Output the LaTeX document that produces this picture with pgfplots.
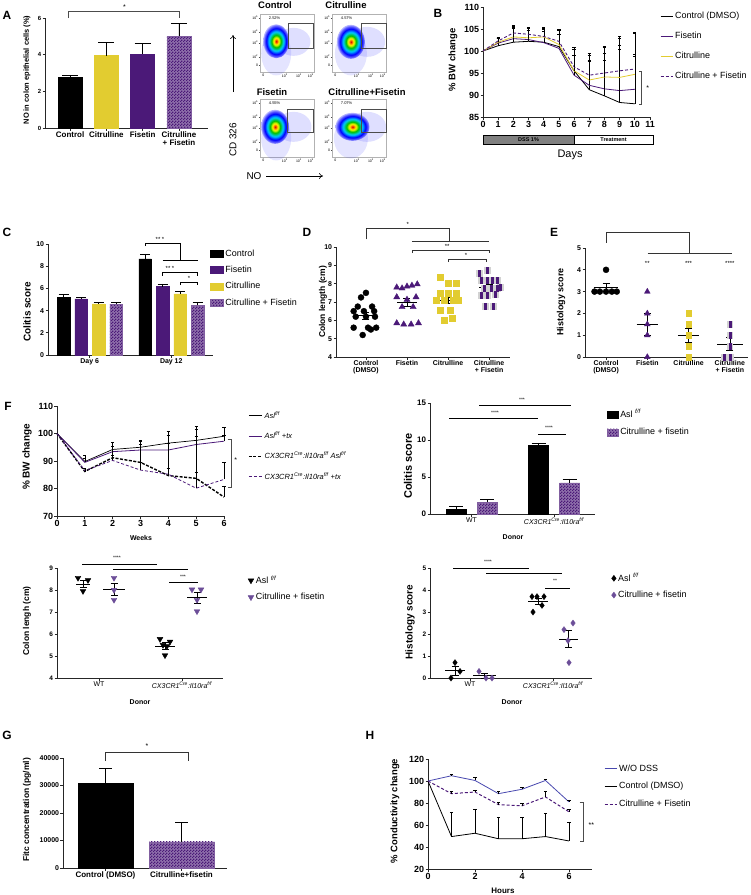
\documentclass[border=0pt]{standalone}
\usepackage{pgfplots}
\pgfplotsset{compat=1.18}
\usepackage{fontspec}
\setmainfont{Liberation Sans}
\usetikzlibrary{patterns,arrows.meta}
\newcommand{\fs}[1]{\fontsize{#1}{#1}\selectfont}
\definecolor{pur}{RGB}{75,25,120}
\definecolor{yel}{RGB}{226,204,48}
\definecolor{purl}{RGB}{108,78,152}
\definecolor{blu}{RGB}{72,72,175}
\definecolor{dss}{RGB}{128,128,128}
\pgfdeclarepatternformonly{finecheck}{\pgfpointorigin}{\pgfqpoint{2.6pt}{2.6pt}}{\pgfqpoint{2.6pt}{2.6pt}}{%
  \pgfpathrectangle{\pgfpointorigin}{\pgfqpoint{1.35pt}{1.35pt}}%
  \pgfpathrectangle{\pgfqpoint{1.3pt}{1.3pt}}{\pgfqpoint{1.35pt}{1.35pt}}%
  \pgfusepath{fill}}
\pgfdeclareradialshading{flowblob}{\pgfpointorigin}{color(0bp)=(red!85!black); color(2.5bp)=(orange); color(5bp)=(yellow); color(9bp)=(green!75!black); color(14bp)=(cyan!80!blue); color(19bp)=(blue); color(23bp)=(blue!60); color(25bp)=(blue!30); color(50bp)=(blue!30)}
\pgfplotsset{
  /pgf/number format/assume math mode=true,
  prism/.style={scale only axis, clip=false, axis lines*=left,
    axis line style={line width=0.7pt, black!85},
    tick style={line width=0.7pt, black!85},
    tick align=outside, major tick length=2.5bp,
    ticklabel style={font=\fs{7}\bfseries, inner sep=1.2bp},
    legend cell align=left,
    legend style={draw=none, fill=none, inner sep=0pt, font=\fs{9}, anchor=north west}},
  pbar/.style n args={3}{ybar, bar shift=0pt, bar width=#1, #2, line width=0.5pt,
    error bars/.cd, y dir=plus, y explicit,
    error bar style={black, line width=0.7pt, solid},
    error mark options={black, rotate=90, mark size=#3, line width=0.7pt}},
  chk/.style={fill=pur!62, draw=pur!70, postaction={pattern=finecheck, pattern color=pur}},
  ebars/.style={error bars/.cd, y dir=plus, y explicit,
    error bar style={black, line width=0.45pt, solid},
    error mark options={black, rotate=90, mark size=1.6bp, line width=0.45pt, solid}},
  msem/.style={draw=none, mark=none, forget plot, error bars/.cd, y dir=both, y explicit,
    error bar style={draw=black, line width=0.7pt, solid},
    error mark options={black, rotate=90, mark size=#1, line width=0.7pt}},
  mline/.style={black, line width=0.7pt, mark=none, forget plot},
  flow/.style={scale only axis, clip=false, width=54bp, height=58bp,
    xmin=0, xmax=1, ymin=0, ymax=1,
    axis line style={gray!60, line width=0.4pt},
    xtick={0.06,0.46,0.72,0.94}, xticklabels={0,10\textsuperscript{3},10\textsuperscript{4},10\textsuperscript{5}},
    ytick={0.12,0.26,0.5,0.69,0.93}, yticklabels={0,10\textsuperscript{2},10\textsuperscript{3},10\textsuperscript{4},10\textsuperscript{5}},
    ticklabel style={font=\fs{3.5}, inner sep=0.5bp},
    tick align=outside, major tick length=1.2bp, tick style={black!70, line width=0.3pt},
    xtick pos=bottom, ytick pos=left},
}
\begin{document}
\begin{tikzpicture}
\path[use as bounding box] (0,0) rectangle (751bp,-895bp);
% ---------- panel letters and free labels
\foreach \t/\x/\y in {A/7/15, B/438/13, C/7/232, D/307/232, E/554/232, F/8/406, G/7/735, H/370/735}
  \node[font=\fs{12}\bfseries] at (\x bp,-\y bp) {\t};
\node[rotate=90, font=\fs{7.5}\bfseries] at (27bp,-70bp) {NO in colon epithelial cells (\%)};
\node[rotate=90, font=\fs{9.5}\bfseries] at (453bp,-60bp) {\% BW change};
\node[rotate=90, font=\fs{10}\bfseries] at (27bp,-312bp) {Colitis score};
\node[rotate=90, font=\fs{8.5}\bfseries] at (323bp,-302bp) {Colon length (cm)};
\node[rotate=90, font=\fs{9}\bfseries] at (561bp,-302bp) {Histology score};
\node[rotate=90, font=\fs{10}\bfseries] at (27bp,-457bp) {\% BW change};
\node[rotate=90, font=\fs{11}\bfseries] at (408bp,-466bp) {Colitis score};
\node[rotate=90, font=\fs{8.5}\bfseries] at (27bp,-621bp) {Colon lengh (cm)};
\node[rotate=90, font=\fs{10}\bfseries] at (410bp,-622bp) {Histology score};
\node[rotate=90, font=\fs{8.5}\bfseries] at (27bp,-810bp) {Fitc concentration (pg/ml)};
\node[rotate=90, font=\fs{9.5}\bfseries] at (395bp,-811bp) {\% Conductivity change};
\node[font=\fs{11}] at (570bp,-155bp) {Days};
\node[font=\fs{7}\bfseries] at (141bp,-538bp) {Weeks};
\node[font=\fs{7}\bfseries] at (513bp,-537bp) {Donor};
\node[font=\fs{7}\bfseries] at (140bp,-702bp) {Donor};
\node[font=\fs{7}\bfseries] at (512bp,-702bp) {Donor};
\node[font=\fs{8}\bfseries] at (503bp,-891bp) {Hours};
% flow labels
\node[font=\fs{9.5}\bfseries] at (275bp,-5bp) {Control};
\node[font=\fs{9.5}\bfseries] at (346bp,-5bp) {Citrulline};
\node[font=\fs{9.5}\bfseries] at (272bp,-92bp) {Fisetin};
\node[font=\fs{9.5}\bfseries] at (367bp,-92bp) {Citrulline+Fisetin};
\node[rotate=90, font=\fs{10}] at (233bp,-140bp) {CD 326};
\draw[-{To[length=4bp,width=6bp]}, line width=0.6pt] (233bp,-92bp) -- (233bp,-35bp);
\node[font=\fs{10}] at (254bp,-176bp) {NO};
\draw[-{To[length=4bp,width=6bp]}, line width=0.6pt] (266bp,-176bp) -- (323bp,-176bp);

% ---------- A
\begin{axis}[prism, at={(45bp,-128bp)}, anchor=south west, width=163bp, height=110bp,
  xmin=-0.69, xmax=3.8, ymin=0, ymax=6, ytick={0,2,4,6},
  xtick={0,1,2,3}, xticklabels={Control,Citrulline,Fisetin,{Citrulline\\+ Fisetin}},
  xticklabel style={font=\fs{8}\bfseries, align=center},
  yticklabel style={font=\fs{6}\bfseries}]
\addplot[pbar={0.66}{fill=black, draw=black}{8bp}] coordinates {(0,2.75) +- (0,0.12)};
\addplot[pbar={0.66}{fill=yel, draw=yel}{8bp}] coordinates {(1,3.95) +- (0,0.7)};
\addplot[pbar={0.66}{fill=pur, draw=pur}{8bp}] coordinates {(2,4.05) +- (0,0.55)};
\addplot[pbar={0.66}{chk}{8bp}] coordinates {(3,5.0) +- (0,0.7)};
\draw[black!70, line width=0.6pt] (axis cs:-0.05,6.0) -- (axis cs:-0.05,6.38) -- (axis cs:3,6.38) -- (axis cs:3,6.0);
\node[font=\fs{7}] at (axis cs:1.5,6.62) {*};
\end{axis}

% ---------- flow plots
\begin{axis}[flow, at={(260bp,-72bp)}, anchor=south west]
\fill[blue!70, opacity=0.18] (axis cs:0.62,0.52) ellipse [x radius=17bp, y radius=14bp];
\fill[blue!70, opacity=0.15] (axis cs:0.3,0.32) ellipse [x radius=15bp, y radius=22bp];
\shade[shading=flowblob] (axis cs:0.3,0.53) ellipse [x radius=13bp, y radius=17bp];
\draw[gray!60!black, line width=0.5pt] (axis cs:0.52,0.41) rectangle (axis cs:0.98,0.845);
\node[font=\fs{4}] at (axis cs:0.27,0.93) {2.52\%};
\end{axis}
\begin{axis}[flow, at={(332bp,-72bp)}, anchor=south west]
\fill[blue!70, opacity=0.18] (axis cs:0.65,0.52) ellipse [x radius=18bp, y radius=15bp];
\fill[blue!70, opacity=0.15] (axis cs:0.35,0.32) ellipse [x radius=16bp, y radius=22bp];
\shade[shading=flowblob] (axis cs:0.35,0.52) ellipse [x radius=14bp, y radius=17bp];
\draw[gray!60!black, line width=0.5pt] (axis cs:0.55,0.41) rectangle (axis cs:1.0,0.845);
\node[font=\fs{4}] at (axis cs:0.27,0.93) {4.57\%};
\end{axis}
\begin{axis}[flow, at={(260bp,-157bp)}, anchor=south west]
\fill[blue!70, opacity=0.18] (axis cs:0.62,0.52) ellipse [x radius=18bp, y radius=15bp];
\fill[blue!70, opacity=0.15] (axis cs:0.3,0.32) ellipse [x radius=15bp, y radius=22bp];
\shade[shading=flowblob] (axis cs:0.28,0.52) ellipse [x radius=14bp, y radius=17bp];
\draw[gray!60!black, line width=0.5pt] (axis cs:0.5,0.42) rectangle (axis cs:0.99,0.83);
\node[font=\fs{4}] at (axis cs:0.27,0.93) {4.55\%};
\end{axis}
\begin{axis}[flow, at={(332bp,-157bp)}, anchor=south west]
\fill[blue!70, opacity=0.18] (axis cs:0.65,0.52) ellipse [x radius=19bp, y radius=15bp];
\fill[blue!70, opacity=0.15] (axis cs:0.35,0.32) ellipse [x radius=17bp, y radius=20bp];
\shade[shading=flowblob] (axis cs:0.38,0.52) ellipse [x radius=17bp, y radius=14bp];
\draw[gray!60!black, line width=0.5pt] (axis cs:0.55,0.42) rectangle (axis cs:1.0,0.83);
\node[font=\fs{4}] at (axis cs:0.27,0.93) {7.07\%};
\end{axis}

% ---------- B
\begin{axis}[prism, at={(483bp,-117bp)}, anchor=south west, width=167bp, height=110bp,
  xmin=0, xmax=11, ymin=85, ymax=110, xtick={0,...,11}, ytick={85,90,...,110},
  ticklabel style={font=\fs{9}\bfseries},
  legend style={at={(1.06,0.97)}, row sep=8bp},
  legend image code/.code={\draw[#1] (0bp,0bp) -- (12bp,0bp);}]
\addplot[black, line width=0.8pt, mark=none, ebars] coordinates {(0,100) (1,101.2) +- (0,2.0) (2,102) +- (0,3.8) (3,102.2) +- (0,3.0) (4,102) +- (0,3.3) (5,101) +- (0,4) (6,95.5) +- (0,5.3) (7,91.2) +- (0,8.3) (8,89.8) +- (0,11.2) (9,88.3) +- (0,15) (10,88) +- (0,16.2)};
\addlegendentry{Control (DMSO)}
\addplot[pur, line width=0.8pt, mark=none, ebars] coordinates {(0,100) (1,101.8) +- (0,1.2) (2,102.8) +- (0,2.5) (3,102.6) +- (0,2.2) (4,101.9) +- (0,2.6) (5,100.6) +- (0,3.3) (6,94.5) +- (0,4.5) (7,92.2) +- (0,5.5) (8,91.4) +- (0,6.4) (9,91) +- (0,9.5) (10,91.3) +- (0,8)};
\addlegendentry{Fisetin}
\addplot[yel, line width=0.8pt, mark=none, ebars] coordinates {(0,100) (1,102) +- (0,0.8) (2,103.2) +- (0,2) (3,103) +- (0,1.8) (4,103.2) +- (0,1.8) (5,101.5) +- (0,3.2) (6,95.5) +- (0,3.5) (7,93.4) +- (0,4.5) (8,94.1) +- (0,5.5) (9,94) +- (0,7.3) (10,94.7) +- (0,4)};
\addlegendentry{Citrulline}
\addplot[pur, dash pattern=on 3bp off 2bp, line width=0.9pt, mark=none, ebars] coordinates {(0,100) (1,102.3) +- (0,0.6) (2,104.1) +- (0,1.6) (3,103.8) +- (0,1.5) (4,103.3) +- (0,1.8) (5,102.2) +- (0,2.5) (6,96.4) +- (0,4) (7,94.5) +- (0,4.5) (8,95) +- (0,5.8) (9,95.5) +- (0,7.5) (10,95.9) +- (0,8.2)};
\addlegendentry{Citrulline + Fisetin}
\draw[black!70, line width=0.5pt] (axis cs:10.3,95.5) -- (axis cs:10.45,95.5) -- (axis cs:10.45,88) -- (axis cs:10.3,88);
\node[font=\fs{7}] at (axis cs:10.85,91.5) {*};
\draw[line width=0.5pt, fill=dss] (axis cs:0,80.9) rectangle (axis cs:6,78.9);
\draw[line width=0.5pt] (axis cs:6,80.9) rectangle (axis cs:11.2,78.9);
\node[font=\fs{5.5}\bfseries] at (axis cs:3,79.9) {DSS 1\%};
\node[font=\fs{5.5}\bfseries] at (axis cs:8.6,79.9) {Treatment};
\end{axis}

% ---------- C
\begin{axis}[prism, at={(48bp,-355bp)}, anchor=south west, width=165bp, height=111bp,
  xmin=0, xmax=165, ymin=0, ymax=10, ytick={0,2,...,10},
  xtick={41.75,123.25}, xticklabels={Day 6,Day 12},
  legend style={at={(0.98,0.97)}, row sep=4.5bp},
  legend image code/.code={\draw[#1] (0bp,-3.5bp) rectangle (13bp,3.5bp);}]
\addplot[pbar={12.5}{fill=black, draw=black}{5bp}] coordinates {(15.5,5.2) +- (0,0.25) (97,8.65) +- (0,0.45)};
\addlegendentry{Control}
\addplot[pbar={12.5}{fill=pur, draw=pur}{5bp}] coordinates {(33,5.05) +- (0,0.15) (114.5,6.15) +- (0,0.25)};
\addlegendentry{Fisetin}
\addplot[pbar={12.5}{fill=yel, draw=yel}{5bp}] coordinates {(50.5,4.6) +- (0,0.1) (132,5.5) +- (0,0.25)};
\addlegendentry{Citrulline}
\addplot[pbar={12.5}{chk}{5bp}] coordinates {(68,4.55) +- (0,0.15) (149.5,4.5) +- (0,0.2)};
\addlegendentry{Citrulline + Fisetin}
\draw[line width=0.6pt] (axis cs:97,9.8) -- (axis cs:97,10.1) -- (axis cs:132,10.1) -- (axis cs:132,8.56);
\draw[line width=0.6pt] (axis cs:114.5,8.56) -- (axis cs:149.5,8.56);
\node[font=\fs{6}] at (axis cs:112,10.45) {** *};
\draw[line width=0.6pt] (axis cs:114.5,7.15) -- (axis cs:114.5,7.48) -- (axis cs:149.5,7.48) -- (axis cs:149.5,7.15);
\node[font=\fs{6}] at (axis cs:122,7.8) {** *};
\draw[line width=0.6pt] (axis cs:132,6.3) -- (axis cs:132,6.58) -- (axis cs:149.5,6.58) -- (axis cs:149.5,6.3);
\node[font=\fs{6}] at (axis cs:141,6.88) {*};
\end{axis}

% ---------- D
\begin{axis}[prism, at={(336bp,-357bp)}, anchor=south west, width=174bp, height=110bp,
  xmin=-0.73, xmax=3.51, ymin=4, ymax=10, ytick={4,5,...,10},
  xtick={0,1,2,3}, xticklabels={{Control\\(DMSO)},Fisetin,Citrulline,{Citrulline\\+ Fisetin}},
  xticklabel style={align=center}]
\addplot[only marks, mark=*, mark size=3bp, black] coordinates {(0,7.5) (-0.12,7.25) (-0.2,6.75) (0.15,6.75) (-0.3,6.5) (-0.05,6.5) (0.2,6.5) (-0.25,6.2) (0,6.2) (0.22,6.2) (-0.3,5.6) (0.05,5.6) (0.25,5.6) (-0.08,5.2) (0.12,5.5)};
\addplot[only marks, mark=triangle*, mark size=3.5bp, pur] coordinates {(0.75,7.8) (0.88,7.75) (1,7.85) (1.12,7.9) (1.25,7.97) (0.75,7.27) (1.22,7.27) (1,7.13) (0.88,6.73) (1.15,6.73) (0.75,5.85) (0.92,5.78) (1.1,5.78) (1.28,5.85)};
\addplot[only marks, mark=square*, mark size=3bp, yel] coordinates {(1.8,8.36) (2,8.0) (2.2,8.0) (1.8,7.5) (2,7.5) (2.2,7.5) (1.72,7.1) (1.9,7.1) (2.12,7.1) (2.25,7.1) (1.8,6.55) (2.05,6.55) (1.9,6.0) (2.1,6.09)};
\addplot[only marks, mark=square*, mark size=3bp, gray!35] coordinates {(2.75,8.58) (2.95,8.76) (2.8,8.18) (2.95,8.18) (3.08,8.18) (3.2,8.18) (2.88,7.78) (3.05,7.78) (3.2,7.78) (2.8,7.36) (2.95,7.36) (3.15,7.45) (2.9,6.76) (3.1,6.76) (3.28,7.82)};
\addplot[only marks, mark=square*, mark size=3bp, pur, mark options={xscale=0.35}] coordinates {(2.75,8.58) (2.95,8.76) (2.8,8.18) (2.95,8.18) (3.08,8.18) (3.2,8.18) (2.88,7.78) (3.05,7.78) (3.2,7.78) (2.8,7.36) (2.95,7.36) (3.15,7.45) (2.9,6.76) (3.1,6.76) (3.28,7.82)};
\addplot[mline] coordinates {(-0.22,6.25) (0.22,6.25)};
\addplot[msem=3.5bp] coordinates {(0,6.25) +- (0,0.17)};
\addplot[mline] coordinates {(0.76,6.97) (1.24,6.97)};
\addplot[msem=3.5bp] coordinates {(1,6.97) +- (0,0.22)};
\addplot[mline] coordinates {(1.76,7.1) (2.24,7.1)};
\addplot[msem=3.5bp] coordinates {(2,7.1) +- (0,0.17)};
\addplot[mline] coordinates {(2.76,7.8) (3.24,7.8)};
\addplot[msem=3.5bp] coordinates {(3,7.8) +- (0,0.15)};
\draw[black!80, line width=0.6pt] (axis cs:0,10.42) -- (axis cs:0,11.02) -- (axis cs:2.02,11.02) -- (axis cs:2.02,10.33);
\draw[black!80, line width=0.6pt] (axis cs:1.12,10.33) -- (axis cs:3,10.33);
\node[font=\fs{6}] at (axis cs:1.02,11.25) {*};
\draw[black!80, line width=0.6pt] (axis cs:1.12,9.67) -- (axis cs:1.12,9.84) -- (axis cs:3,9.84) -- (axis cs:3,9.67);
\node[font=\fs{6}] at (axis cs:1.98,10.02) {**};
\draw[black!80, line width=0.6pt] (axis cs:2,9.18) -- (axis cs:2,9.34) -- (axis cs:2.94,9.34) -- (axis cs:2.94,9.18);
\node[font=\fs{6}] at (axis cs:2.44,9.52) {*};
\end{axis}

% ---------- E
\begin{axis}[prism, at={(585bp,-357bp)}, anchor=south west, width=163bp, height=109bp,
  xmin=-0.51, xmax=3.44, ymin=0, ymax=5, ytick={0,...,5},
  xtick={0,1,2,3}, xticklabels={{Control\\(DMSO)},Fisetin,Citrulline,{Citrulline\\+ Fisetin}},
  xticklabel style={align=center}]
\addplot[only marks, mark=*, mark size=3bp, black] coordinates {(-0.28,3) (-0.15,3) (0,3) (0.14,3) (0.26,3) (0,4)};
\addplot[only marks, mark=triangle*, mark size=3.3bp, pur] coordinates {(1,3) (1,2) (1,1.5) (1,1) (1,0)};
\addplot[only marks, mark=square*, mark size=2.8bp, yel] coordinates {(2,2) (2,1.5) (2,1) (2,0.5) (2,0)};
\addplot[only marks, mark=square*, mark size=2.8bp, gray!35] coordinates {(3,1.5) (3,1) (3,0.5) (2.86,0) (3.02,0)};
\addplot[only marks, mark=square*, mark size=2.8bp, pur, mark options={xscale=0.35}] coordinates {(3,1.5) (3,1) (3,0.5) (2.86,0) (3.02,0)};
\addplot[mline] coordinates {(-0.3,3.2) (0.3,3.2)};
\addplot[msem=3.5bp] coordinates {(0,3.2) +- (0,0.2)};
\addplot[mline] coordinates {(0.74,1.5) (1.26,1.5)};
\addplot[msem=3.5bp] coordinates {(1,1.5) +- (0,0.5)};
\addplot[mline] coordinates {(1.74,1.0) (2.26,1.0)};
\addplot[msem=3.5bp] coordinates {(2,1.0) +- (0,0.33)};
\addplot[mline] coordinates {(2.7,0.6) (3.32,0.6)};
\addplot[msem=3.5bp] coordinates {(3,0.6) +- (0,0.3)};
\draw[black!80, line width=0.8pt] (axis cs:0,5.23) -- (axis cs:0,5.73) -- (axis cs:2.03,5.73) -- (axis cs:2.03,4.77);
\draw[black!80, line width=0.8pt] (axis cs:1.01,4.77) -- (axis cs:3.06,4.77);
\node[font=\fs{6}] at (axis cs:1,4.31) {**};
\node[font=\fs{6}] at (axis cs:2,4.31) {***};
\node[font=\fs{6}] at (axis cs:3,4.31) {****};
\end{axis}

% ---------- F top-left
\begin{axis}[prism, at={(57bp,-516bp)}, anchor=south west, width=167bp, height=110bp,
  xmin=0, xmax=6, ymin=70, ymax=110, xtick={0,...,6}, ytick={70,80,...,110},
  ticklabel style={font=\fs{9}\bfseries},
  legend style={at={(1.144,0.97)}, row sep=8bp, font=\fs{7.5}},
  legend image code/.code={\draw[#1] (0bp,0bp) -- (13bp,0bp);}]
\addplot[black, line width=0.7pt, mark=none, ebars] coordinates {(0,100) (1,89.8) +- (0,2.3) (2,94.2) +- (0,2.5) (3,95) +- (0,2.3) (4,96.5) +- (0,3) (5,97.5) +- (0,4) (6,99) +- (0,3.3)};
\addlegendentry{\textit{Asl\textsuperscript{f/f}}}
\addplot[pur, line width=0.8pt, mark=none, ebars] coordinates {(0,100) (1,89.5) +- (0,1.5) (2,93.4) +- (0,2) (3,94) +- (0,2) (4,94) +- (0,2.5) (5,96) +- (0,3) (6,97.2) +- (0,2)};
\addlegendentry{\textit{Asl\textsuperscript{f/f} +tx}}
\addplot[black, dash pattern=on 3bp off 1.5bp, line width=1.4pt, mark=none, ebars] coordinates {(0,100) (1,86.2) +- (0,1) (2,91.2) +- (0,5.8) (3,89.5) +- (0,8) (4,84.7) +- (0,16.3) (5,83.7) +- (0,19) (6,76.9) +- (0,4)};
\addlegendentry{\textit{CX3CR1\textsuperscript{Cre}:Il10ra\textsuperscript{f/f} Asl\textsuperscript{f/f}}}
\addplot[pur, dash pattern=on 3bp off 2bp, line width=0.8pt, mark=none, ebars] coordinates {(0,100) (1,86.5) +- (0,1) (2,90.2) +- (0,2) (3,86.7) +- (0,3) (4,85.2) +- (0,2) (5,80.1) +- (0,6) (6,83.3) +- (0,6.2)};
\addlegendentry{\textit{CX3CR1\textsuperscript{Cre}:Il10ra\textsuperscript{f/f} +tx}}
\draw[black!70, line width=0.5pt] (axis cs:6.13,98) -- (axis cs:6.25,98) -- (axis cs:6.25,80.5) -- (axis cs:6.13,80.5);
\node[font=\fs{7}] at (axis cs:6.42,90.5) {*};
\end{axis}

% ---------- F top-right
\begin{axis}[prism, at={(430bp,-514bp)}, anchor=south west, width=165bp, height=111bp,
  xmin=0, xmax=165, ymin=0, ymax=15, ytick={0,5,10,15},
  xtick={41.5,124}, xticklabels={WT,\textit{CX3CR1\textsuperscript{Cre}:Il10ra\textsuperscript{f/f}}},
  ticklabel style={font=\fs{8}\bfseries}, xticklabel style={font=\fs{7}},
  legend style={at={(1.07,0.96)}, row sep=5bp},
  legend image code/.code={\draw[#1] (0bp,-3.5bp) rectangle (11bp,3.5bp);}]
\addplot[pbar={20}{fill=black, draw=black}{7bp}] coordinates {(26,0.6) +- (0,0.4) (108.5,9.3) +- (0,0.3)};
\addlegendentry{Asl \textsuperscript{\textit{f/f}}}
\addplot[pbar={20}{chk}{7bp}] coordinates {(57,1.6) +- (0,0.4) (139.5,4.2) +- (0,0.55)};
\addlegendentry{Citrulline + fisetin}
\draw[line width=0.6pt] (axis cs:19,12.97) -- (axis cs:108,12.97);
\node[font=\fs{5}] at (axis cs:65,13.7) {****};
\draw[line width=0.6pt] (axis cs:49,14.7) -- (axis cs:141,14.7);
\node[font=\fs{5}] at (axis cs:92,15.4) {***};
\draw[line width=0.6pt] (axis cs:108,10.8) -- (axis cs:136,10.8);
\node[font=\fs{5}] at (axis cs:119,11.6) {****};
\end{axis}

% ---------- F bottom-left
\begin{axis}[prism, at={(57bp,-678bp)}, anchor=south west, width=166bp, height=110bp,
  xmin=0, xmax=166, ymin=4, ymax=9, ytick={4,...,9},
  xtick={42,125}, xticklabels={WT,\textit{CX3CR1\textsuperscript{Cre}:Il10ra\textsuperscript{f/f}}},
  xticklabel style={font=\fs{7}}, yticklabel style={font=\fs{6.5}\bfseries},
  legend style={at={(1.15,0.95)}, row sep=4bp}]
\addplot[only marks, mark=triangle*, mark size=3.3bp, mark options={rotate=180}, black] coordinates {(21,8.55) (31,8.45) (26,7.95) (103,5.77) (113,5.65) (106,5.5) (110,5.45) (108,5.03)};
\addlegendentry{Asl \textsuperscript{\textit{f/f}}}
\addplot[only marks, mark=triangle*, mark size=3.3bp, mark options={rotate=180}, purl] coordinates {(57,8.55) (57,8.0) (57,7.55) (135,8.02) (144,8.02) (140,7.55) (140,7.03)};
\addlegendentry{Citrulline + fisetin}
\addplot[mline] coordinates {(19,8.28) (33,8.28)};
\addplot[msem=3.5bp] coordinates {(26,8.28) +- (0,0.17)};
\addplot[mline] coordinates {(46,8.03) (68,8.03)};
\addplot[msem=3.5bp] coordinates {(57,8.03) +- (0,0.28)};
\addplot[mline] coordinates {(98,5.45) (118,5.45)};
\addplot[msem=3.5bp] coordinates {(108,5.45) +- (0,0.15)};
\addplot[mline] coordinates {(130,7.65) (150,7.65)};
\addplot[msem=3.5bp] coordinates {(140,7.65) +- (0,0.25)};
\draw[line width=0.6pt] (axis cs:25,9.18) -- (axis cs:100,9.18);
\node[font=\fs{5}] at (axis cs:60,9.45) {****};
\draw[line width=0.6pt] (axis cs:56,8.95) -- (axis cs:131,8.95);
\draw[line width=0.6pt] (axis cs:112,8.36) -- (axis cs:141,8.36);
\node[font=\fs{5}] at (axis cs:126,8.62) {***};
\end{axis}

% ---------- F bottom-right
\begin{axis}[prism, at={(430bp,-678bp)}, anchor=south west, width=162bp, height=110bp,
  xmin=0, xmax=162, ymin=0, ymax=5, ytick={0,...,5},
  xtick={40,123}, xticklabels={WT,\textit{CX3CR1\textsuperscript{Cre}:Il10ra\textsuperscript{f/f}}},
  xticklabel style={font=\fs{7}}, yticklabel style={font=\fs{6.5}\bfseries},
  legend style={at={(1.12,0.97)}, row sep=4bp}]
\addplot[only marks, mark=diamond*, mark size=3bp, black] coordinates {(25,0.7) (30,0.3) (21,0) (102,3.7) (107,3.7) (114,3.7) (112,3.3) (103,3.0)};
\addlegendentry{Asl \textsuperscript{\textit{f/f}}}
\addplot[only marks, mark=diamond*, mark size=3bp, purl] coordinates {(49,0.3) (56,0) (62,0) (143,2.5) (134,2.2) (138,1.7) (139,0.7)};
\addlegendentry{Citrulline + fisetin}
\addplot[mline] coordinates {(15,0.33) (35,0.33)};
\addplot[msem=3.5bp] coordinates {(25,0.33) +- (0,0.21)};
\addplot[mline] coordinates {(43,0.1) (66,0.1)};
\addplot[msem=3.5bp] coordinates {(54,0.1) +- (0,0.1)};
\addplot[mline] coordinates {(98,3.48) (118,3.48)};
\addplot[msem=3.5bp] coordinates {(108,3.48) +- (0,0.13)};
\addplot[mline] coordinates {(129,1.78) (148,1.78)};
\addplot[msem=3.5bp] coordinates {(138,1.78) +- (0,0.4)};
\draw[line width=0.6pt] (axis cs:23,5.0) -- (axis cs:99,5.0);
\node[font=\fs{5}] at (axis cs:58,5.27) {****};
\draw[line width=0.6pt] (axis cs:56,4.77) -- (axis cs:132,4.77);
\draw[line width=0.6pt] (axis cs:115,4.09) -- (axis cs:140,4.09);
\node[font=\fs{5}] at (axis cs:125,4.41) {**};
\end{axis}

% ---------- G
\begin{axis}[prism, at={(63bp,-868bp)}, anchor=south west, width=164bp, height=110bp,
  xmin=0, xmax=164, ymin=0, ymax=40000, ytick={0,10000,...,40000},
  scaled y ticks=false, /pgf/number format/1000 sep={},
  xtick={42.5,118.5}, xticklabels={Control (DMSO),Citrulline+fisetin},
  xticklabel style={font=\fs{8}\bfseries}]
\addplot[pbar={55}{fill=black, draw=black}{6.5bp}] coordinates {(42.5,30700) +- (0,5600)};
\addplot[pbar={65}{chk}{6.5bp}] coordinates {(118.5,9500) +- (0,7100)};
\draw[black!80, line width=0.6pt] (axis cs:42,38900) -- (axis cs:42,42200) -- (axis cs:125,42200) -- (axis cs:125,38900);
\node[font=\fs{7}] at (axis cs:84,44300) {*};
\end{axis}

% ---------- H
\begin{axis}[prism, at={(428bp,-869bp)}, anchor=south west, width=164.5bp, height=110bp,
  xmin=0, xmax=7, ymin=20, ymax=120, xtick={0,2,4,6}, ytick={20,40,...,120},
  ticklabel style={font=\fs{9}\bfseries},
  legend style={at={(1.07,0.97)}, row sep=6bp},
  legend image code/.code={\draw[#1] (0bp,0bp) -- (12bp,0bp);}]
\addplot[blu, line width=0.8pt, mark=none, ebars] coordinates {(0,100) (1,104.8) +- (0,1.5) (2,100.5) +- (0,2.5) (3,88.5) +- (0,2) (4,92.5) +- (0,2) (5,100.5) +- (0,1.5) (6,81) +- (0,1.5)};
\addlegendentry{W/O DSS}
\addplot[black, line width=0.8pt, mark=none, ebars] coordinates {(0,100) (1,49.5) +- (0,22) (2,52.5) +- (0,22) (3,47.5) +- (0,20) (4,47.5) +- (0,20) (5,49.5) +- (0,21) (6,45.5) +- (0,17)};
\addlegendentry{Control (DMSO)}
\addplot[pur, dash pattern=on 3bp off 2bp, line width=1pt, mark=none, ebars] coordinates {(0,100) (1,88.5) +- (0,2.5) (2,90) +- (0,2) (3,78.5) +- (0,2.5) (4,77.5) +- (0,2.5) (5,85.5) +- (0,5) (6,72) +- (0,2.5)};
\addlegendentry{Citrulline + Fisetin}
\draw[black!70, line width=0.5pt] (axis cs:6.45,80.9) -- (axis cs:6.62,80.9) -- (axis cs:6.62,45.5) -- (axis cs:6.45,45.5);
\node[font=\fs{7}] at (axis cs:6.95,60) {**};
\end{axis}
\end{tikzpicture}
\end{document}
